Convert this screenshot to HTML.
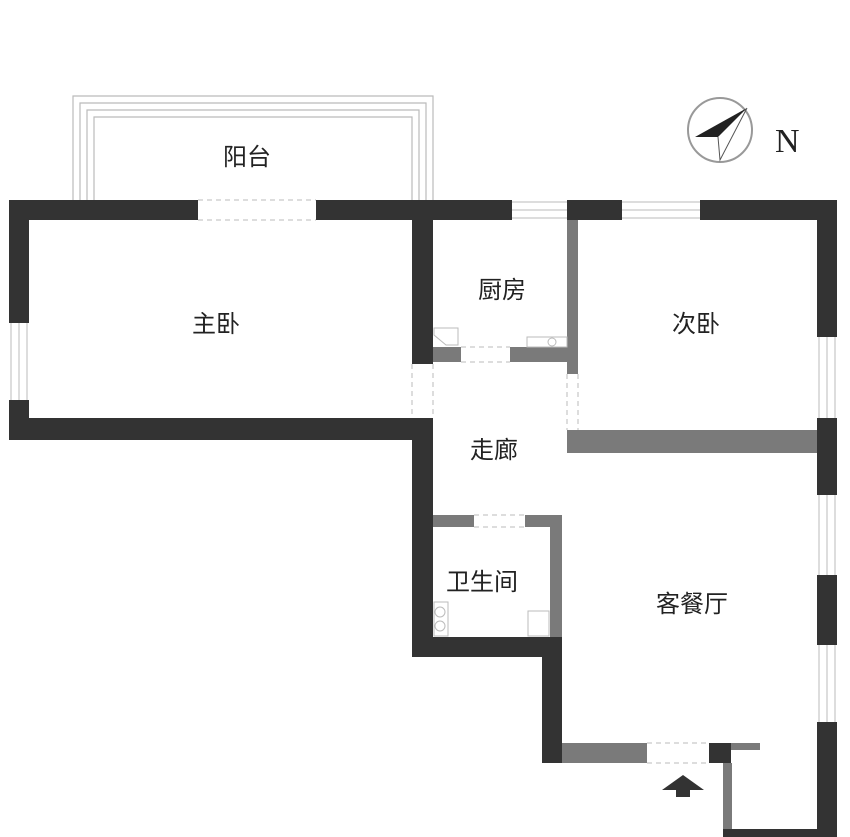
<!DOCTYPE html><html><head><style>body{margin:0;background:#fff}svg{display:block}text{font-family:"Liberation Sans","Noto Sans CJK SC",sans-serif;font-size:24px;fill:#222}</style></head><body>
<svg width="850" height="837" viewBox="0 0 850 837">
<g fill="none" stroke="#bbb" stroke-width="1.2">
<path d="M73 200V96H433V200"/><path d="M80 200V103H426V200"/><path d="M87 200V110H419V200"/><path d="M94 200V117H412V200"/>
</g>
<g fill="#333">
<rect x="9" y="200" width="189" height="20"/><rect x="316" y="200" width="196" height="20"/><rect x="567" y="200" width="55" height="20"/><rect x="700" y="200" width="137" height="20"/>
<rect x="9" y="200" width="20" height="123"/><rect x="9" y="400" width="20" height="40"/>
<rect x="9" y="418" width="424" height="22"/>
<rect x="412" y="200" width="21" height="164"/><rect x="412" y="418" width="21" height="239"/>
<rect x="412" y="637" width="150" height="20"/><rect x="542" y="637" width="20" height="126"/>
<rect x="709" y="743" width="22" height="20"/>
<rect x="817" y="200" width="20" height="137"/><rect x="817" y="418" width="20" height="77"/><rect x="817" y="575" width="20" height="70"/><rect x="817" y="722" width="20" height="115"/>
<rect x="723" y="829" width="114" height="8"/>
</g>
<g fill="#7a7a7a">
<rect x="433" y="347" width="28" height="15"/><rect x="510" y="347" width="57" height="15"/>
<rect x="567" y="220" width="11" height="154"/><rect x="567" y="430" width="250" height="23"/><rect x="567" y="430" width="11" height="23"/>
<rect x="433" y="515" width="41" height="12"/><rect x="525" y="515" width="37" height="12"/><rect x="550" y="515" width="12" height="122"/>
<rect x="562" y="743" width="85" height="20"/><rect x="731" y="743" width="29" height="7"/><rect x="723" y="763" width="9" height="66"/>
</g>
<g stroke="#bbb" stroke-width="1" fill="none">
<path d="M512 202H567M512 210H567M512 218H567M622 202H700M622 210H700M622 218H700"/>
<path d="M11 323V400M19 323V400M27 323V400"/>
<path d="M819 337V418M827 337V418M835 337V418M819 495V575M827 495V575M835 495V575M819 645V722M827 645V722M835 645V722"/>
<g stroke-dasharray="5 4"><path d="M198 200H316M198 220H316M461 347H510M461 362H510M412 364V418M433 364V418M567 374V430M578 374V430M474 515H525M474 527H525M647 743H709M647 763H709"/></g>
<path d="M434 328H458V345H446L434 335Z"/><rect x="527" y="337" width="40" height="10"/><circle cx="552" cy="342" r="4"/>
<rect x="434" y="602" width="14" height="34"/><circle cx="440" cy="612" r="5"/><circle cx="440" cy="626" r="5"/>
<path d="M528 611H549V636H528Z"/>
</g>
<path d="M662 790L683 775L704 790H690V797H676V790Z" fill="#333"/>
<circle cx="720" cy="130" r="32" fill="none" stroke="#999" stroke-width="2"/>
<path d="M695 137L747 108L718 137Z" fill="#222"/><path d="M718 137L720 160L747 108" fill="none" stroke="#555"/>
<text x="775" y="152" style="font-family:'Liberation Serif',serif;font-size:34px">N</text>
<text x="223" y="165" font-size="22">阳台</text>
<text x="192" y="332">主卧</text>
<text x="478" y="298">厨房</text>
<text x="672" y="332">次卧</text>
<text x="470" y="458">走廊</text>
<text x="446" y="590">卫生间</text>
<text x="656" y="612">客餐厅</text>
</svg></body></html>
